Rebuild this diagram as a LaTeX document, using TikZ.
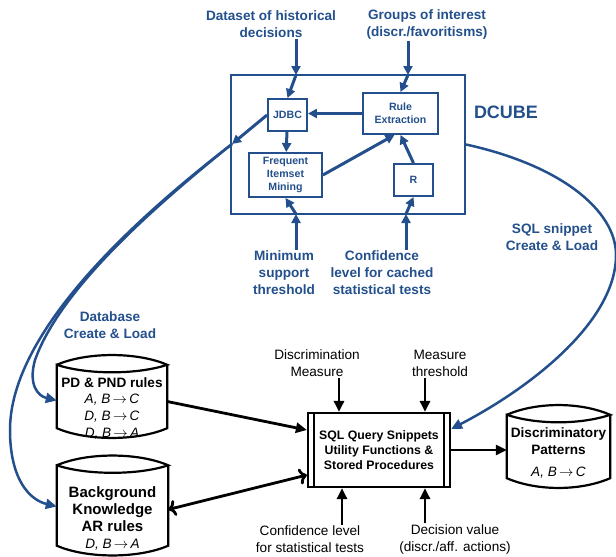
\documentclass[tikz,border=0pt]{standalone}
\usepackage{fontspec}
\setmainfont{Liberation Sans}
\usepackage{amsmath}
\usepackage{tikz}
\usetikzlibrary{arrows.meta, calc}
\definecolor{dcblue}{HTML}{23508C}

% can-shaped outline round a named node
\newcommand{\dbshape}[1]{%
  \draw[dbline] ([yshift=-10pt]#1.north west) coordinate (#1-tl)
    .. controls +(30,-13) and +(-30,-13) .. ([yshift=-10pt]#1.north east) coordinate (#1-tr)
    .. controls +(-30,10) and +(30,10) .. (#1-tl)
    -- ([yshift=10pt]#1.south west)
    .. controls +(30,13) and +(-30,13) .. ([yshift=10pt]#1.south east)
    -- (#1-tr);}

\begin{document}
\begin{tikzpicture}[x=1pt, y=-1pt,
        outerbox/.style={draw=dcblue, line width=1.9pt, inner sep=0pt},
        inbox/.style={draw=dcblue, line width=1.9pt, inner sep=0pt, align=center, text=dcblue, font=\fontsize{10.6}{13}\selectfont\bfseries},
        titletxt/.style={text=dcblue, font=\fontsize{18}{20}\selectfont\bfseries, inner sep=1pt},
        bluelbl/.style={text=dcblue, align=center, inner sep=1pt, font=\fontsize{13.6}{17}\selectfont\bfseries},
        blklbl/.style={align=center, inner sep=1pt, font=\fontsize{13.6}{17}\selectfont},
        barrow/.style={-{Triangle[length=9pt,width=9pt]}, line width=3pt, dcblue},
        bcurve/.style={-{Triangle[length=11pt,width=10pt]}, line width=2.5pt, dcblue},
        karrow/.style={-{Triangle[length=11pt,width=10pt]}, line width=2.8pt},
        dbline/.style={line width=2.2pt},
        dbnode/.style={inner sep=0pt},
        sqlbox/.style={draw, line width=2.2pt, inner sep=0pt, align=center, font=\fontsize{12.3}{15}\selectfont\bfseries}
    ]
    \useasboundingbox (0,0) rectangle (616,557);

    % DCUBE part
    \node (dcube) [outerbox, minimum width=234pt, minimum height=139pt] at (348,144.5) {};
    \node (dctitle) [titletxt] at (506,112) {DCUBE};
    \node (jdbc) [inbox, minimum width=39pt, minimum height=32pt] at (287.5,115) {JDBC};
    \node (rule) [inbox, minimum width=75pt, minimum height=41pt] at (400.5,113.5) {Rule\\Extraction};
    \node (fim) [inbox, minimum width=73pt, minimum height=44pt] at (285.5,175) {Frequent\\Itemset\\Mining};
    \node (r) [inbox, minimum width=39pt, minimum height=32pt] at (413.5,180) {R};

    \node (dataset) [bluelbl] at (271,24.5) {Dataset of historical\\decisions};
    \node (groups) [bluelbl] at (427,24.5) {Groups of interest\\(discr./favoritisms)};
    \node (minsup) [bluelbl] at (284,273) {Minimum\\support\\threshold};
    \node (cachedconf) [bluelbl] at (382,273) {Confidence\\level for cached\\statistical tests};
    \node (dbload) [bluelbl] at (110,325.5) {Database\\Create \& Load};
    \node (sqlload) [bluelbl] at (552,237.5) {SQL snippet\\Create \& Load};

    \coordinate (dsin) at (296,75);
    \coordinate (grin) at (408,75);
    \coordinate (msin) at (296,214);
    \coordinate (cfin) at (406,214);
    \coordinate (dbout) at (232,144);

    \draw [barrow] (dsin |- dataset.south) -- (dsin);
    \draw [barrow] (dsin) -- (jdbc.north);
    \draw [barrow] (grin |- groups.south) -- (grin);
    \draw [barrow] (grin) -- (rule.north);
    \draw [barrow] (msin |- minsup.north) -- (msin);
    \draw [barrow] (msin) -- (fim.south);
    \draw [barrow] (cfin |- cachedconf.north) -- (cfin);
    \draw [barrow] (cfin) -- (r.south);
    \draw [barrow] (rule.west) -- (rule.west -| jdbc.east);
    \draw [barrow] (jdbc) -- (fim);
    \draw [barrow] (fim.east) -- ([xshift=-6pt]rule.south);
    \draw [barrow] (r.north) -- (rule.south);
    \draw [barrow] (jdbc.west) -- (dbout);

    % query part
    \node (pd) [dbnode, minimum width=110pt, minimum height=83pt] at (112,396.5) {};
    \dbshape{pd}
    \node (pdtxt) [blklbl] at (112,408) {\textbf{PD \& PND rules}\\[-1pt]\textit{A, B}\,$\rightarrow$\,\textit{C}\\\textit{D, B}\,$\rightarrow$\,\textit{C}\\\textit{D, B}\,$\rightarrow$\,\textit{A}};
    \node (bg) [dbnode, minimum width=111pt, minimum height=100pt] at (112.5,505.5) {};
    \dbshape{bg}
    \node (bgtxt) [blklbl, font=\fontsize{15}{17}\selectfont] at (112.5,518.5) {\textbf{Background}\\\textbf{Knowledge}\\\textbf{AR rules}\\{\fontsize{13.6}{17}\selectfont\textit{D, B}\,$\rightarrow$\,\textit{A}}};
    \node (dp) [dbnode, minimum width=103pt, minimum height=83pt] at (558.5,446.5) {};
    \dbshape{dp}
    \node (dptxt) [blklbl] at (558.5,453) {\textbf{Discriminatory}\\\textbf{Patterns}\\[5pt]\textit{A, B}\,$\rightarrow$\,\textit{C}};

    \node (sql) [sqlbox, minimum width=142pt, minimum height=74pt] at (379,450) {SQL Query Snippets\\Utility Functions \&\\Stored Procedures};
    \draw [dbline] ([xshift=7pt]sql.north west) -- ([xshift=7pt]sql.south west);
    \draw [dbline] ([xshift=-7pt]sql.north east) -- ([xshift=-7pt]sql.south east);

    \node (dmeas) [blklbl] at (317,363.5) {Discrimination\\Measure};
    \node (mthr) [blklbl] at (440,363.5) {Measure\\threshold};
    \node (cstat) [blklbl] at (310,539.5) {Confidence level\\for statistical tests};
    \node (dval) [blklbl] at (455,539.5) {Decision value\\(discr./aff. actions)};

    \coordinate (dmin) at ([xshift=-40pt]sql.north);
    \coordinate (mtin) at ([xshift=46pt]sql.north);
    \coordinate (csin) at ([xshift=-37pt]sql.south);
    \coordinate (dvin) at ([xshift=46pt]sql.south);

    \draw [karrow] (dmin |- dmeas.south) -- (dmin);
    \draw [karrow] (mtin |- mthr.south) -- (mtin);
    \draw [karrow] (csin |- cstat.north) -- (csin);
    \draw [karrow] (dvin |- dval.north) -- (dvin);
    \draw [karrow] ([yshift=-5pt]pd.east) -- ([yshift=20pt]sql.west);
    \draw [karrow, <->] ([yshift=-4pt]bg.east) -- ([yshift=-25pt]sql.west);
    \draw [karrow] (sql.east) -- (sql.east -| dp.west);

    % create & load curves
    \draw [bcurve] (dbout) .. controls (150,210) and (60,290) .. (35,360) .. controls (28,385) and (38,396) .. ([yshift=-4pt]pd.west);
    \draw [bcurve] (dbout) .. controls (140,215) and (10,330) .. (10,430) .. controls (10,480) and (30,500) .. ([yshift=-1pt]bg.west);
    \draw [bcurve] (dcube.east) .. controls (560,165) and (616,210) .. (616,255) .. controls (616,322) and (530,388) .. ([yshift=21pt]sql.east);
\end{tikzpicture}
\end{document}
